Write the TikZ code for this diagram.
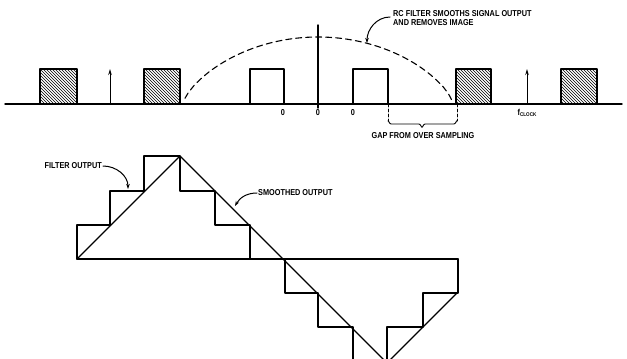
\documentclass[tikz,border=0pt]{standalone}
\usepackage{fontspec}
\setmainfont{Liberation Sans}
\newfontfamily\lblfont{Liberation Sans Bold}[FakeStretch=0.85]
\usetikzlibrary{arrows.meta,patterns}

\tikzset{
  lbl/.style={font=\lblfont\fontsize{8.6}{9.6}\selectfont, inner sep=0pt},
  hatchbox/.style={draw, line width=1.4pt, pattern=north west lines},
  openbox/.style={draw, line width=1.4pt},
  callout/.style={line width=1pt, -{Stealth[length=5pt,width=3.5pt]}},
}

\begin{document}
\begin{tikzpicture}[x=1pt, y=-1pt, line cap=round, line join=round]
  \useasboundingbox (0,0) rectangle (627,359);
  \clip (0,0) rectangle (627,359);

  % spectrum
  \draw[line width=1.4pt] (5,104) -- (622,104);
  \draw[hatchbox] (40,69) rectangle (77,104);
  \draw[hatchbox] (144,69) rectangle (180,104);
  \draw[hatchbox] (456,69) rectangle (491,104);
  \draw[hatchbox] (561,69) rectangle (597,104);
  \draw[openbox] (250,69) rectangle (284,104);
  \draw[openbox] (353,69) rectangle (388,104);
  \draw[line width=1pt, -{Stealth[length=6pt,width=3.5pt]}] (110,104) -- (110,69);
  \draw[line width=1pt, -{Stealth[length=6pt,width=3.5pt]}] (527,104) -- (527,69);
  \draw[line width=1.4pt] (318,108) -- (318,25);
  \draw[line width=1.1pt, dash pattern=on 6pt off 4pt]
    plot[domain=-0.985:0.995, samples=90, smooth] ({318+135*\x},{104-67*(1-\x*\x)^0.7});

  \node[lbl] (neg) at (283,113) {0};
  \node[lbl] (zero) at (318,113) {0};
  \node[lbl] (pos) at (353,113) {0};
  \node[lbl] (fclk) at (527,113) {f\raisebox{-1.5pt}{\fontsize{5.4}{6}\selectfont CLOCK}};

  % gap brace
  \coordinate (gapL) at (388,104);
  \coordinate (gapR) at (457,104);
  \draw[line width=0.8pt, dash pattern=on 3pt off 2pt] (gapL) -- ++(0,17);
  \draw[line width=0.8pt, dash pattern=on 3pt off 2pt] (gapR) -- ++(0,17);
  \draw[line width=0.9pt] (388,121) to[out=90,in=180] (391,124) -- (419,124)
    to[out=0,in=-90] (422,127) to[out=-90,in=180] (425,124) -- (454,124) to[out=0,in=90] (457,121);
  \node[lbl] (gaplbl) at (423,136) {GAP FROM OVER SAMPLING};

  \node[lbl, anchor=west, align=left] (rclbl) at (393,18)
    {RC FILTER SMOOTHS SIGNAL OUTPUT\\AND REMOVES IMAGE};
  \coordinate (rctip) at (367,43);
  \draw[callout] (rclbl.west) ++(-3,-1) to[out=180,in=90] (rctip);

  % staircase and smoothed wave
  \draw[line width=1.5pt]
    (77,259) -- (77,225) -- (110,225) -- (110,191) -- (144,191) -- (144,156)
    -- (180,156) -- (180,191) -- (215,191) -- (215,225) -- (250,225) -- (250,259);
  \draw[line width=1.5pt] (77,259) -- (458,259);
  \draw[line width=1.5pt]
    (285,259) -- (285,293) -- (318,293) -- (318,327) -- (353,327) -- (353,362)
    -- (387,362) -- (387,327) -- (423,327) -- (423,293) -- (458,293) -- (458,259);
  \draw[line width=1.1pt] (77,259) -- (180,156) -- (387,363) -- (458,292);

  \node[lbl, anchor=east] (filtlbl) at (102,166) {FILTER OUTPUT};
  \coordinate (filttip) at (128,189);
  \draw[callout] (filtlbl.east) ++(1,0) to[out=0,in=90] (filttip);

  \node[lbl, anchor=west] (smolbl) at (258,193) {SMOOTHED OUTPUT};
  \coordinate (smotip) at (235,206);
  \draw[callout] (smolbl.west) ++(-1,0) to[out=180,in=60] (smotip);
\end{tikzpicture}
\end{document}
